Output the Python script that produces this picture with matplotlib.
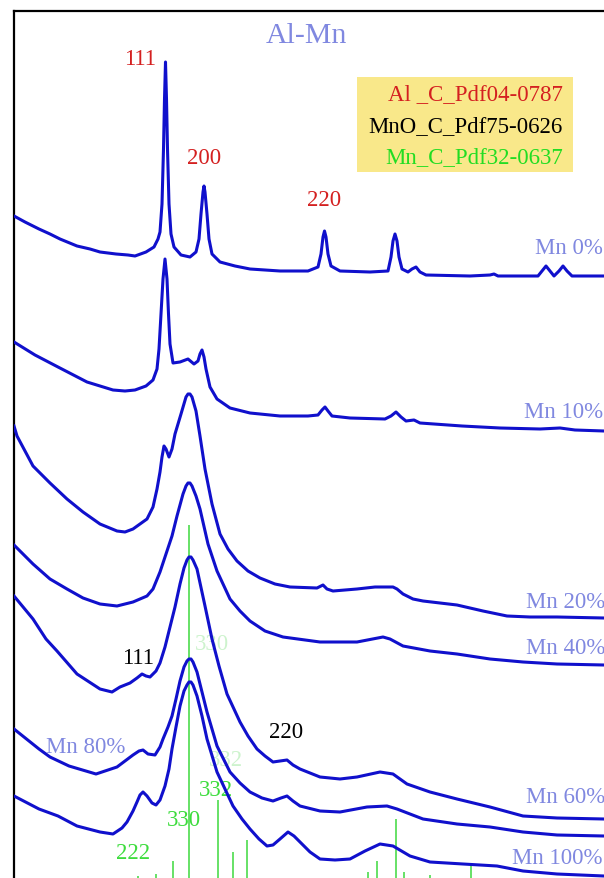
import matplotlib.pyplot as plt
from matplotlib.patches import Rectangle

# traced XRD patterns (x: diffraction angle, arb. scale; y: stacked intensity, arb. units)
mn0_x = [14, 25, 39, 50, 60, 77, 90, 100, 116, 128, 135, 146, 154, 158, 160, 162, 163.5, 164.5, 165.5, 166.5,
         167.5, 169, 171, 174, 181, 190, 196, 199, 201, 203, 204, 205, 207, 209, 212, 220, 235, 250, 280, 308,
         318, 321, 323, 324.5, 326, 328, 331, 340, 370, 388, 391, 393, 395, 397, 399, 402, 408, 412, 416, 420,
         426, 470, 490, 494, 498, 538, 542, 546, 550, 554, 559, 563, 567, 572, 604, 620]
mn0_y = [683, 677, 670, 665, 660, 653, 650, 647, 645, 644, 643, 647, 652, 660, 667, 695, 750, 800, 837, 800,
         750, 695, 665, 652, 644, 642, 647, 660, 685, 707, 713, 707, 685, 660, 645, 637, 633, 630, 628, 628,
         632, 645, 662, 668, 662, 645, 633, 628, 627, 628, 642, 658, 665, 658, 642, 630, 627, 630, 632, 627,
         624, 623, 624, 625, 623, 623, 628, 633, 628, 623, 628, 633, 628, 623, 623, 623]

mn10_x = [14, 35, 58, 87, 113, 125, 135, 146, 153, 157, 159, 161, 163, 165, 167, 168.5, 170, 173, 180, 188,
          194, 198, 200, 202, 204, 206, 210, 217, 230, 250, 280, 308, 318, 322, 325, 328, 332, 350, 385, 391,
          396, 401, 406, 414, 420, 462, 500, 540, 560, 575, 604, 620]
mn10_y = [557, 544, 532, 517, 509, 508, 509, 513, 519, 530, 550, 585, 620, 640, 620, 585, 555, 536, 537, 540,
          535, 538, 545, 549, 542, 530, 512, 500, 491, 486, 483, 483, 484, 489, 492, 488, 483, 481, 480, 483,
          487, 482, 478, 479, 476, 473, 471, 470, 471, 469, 468, 468]

mn20_x = [14, 17, 25, 33, 50, 67, 83, 100, 117, 125, 133, 147, 153, 157, 160, 162, 164, 166, 169, 172,
          175, 181, 186, 188, 190, 192, 196, 200, 205, 212, 220, 228, 237, 248, 260, 275, 290, 317, 323, 327,
          333, 357, 375, 393, 397, 403, 413, 423, 457, 483, 507, 530, 557, 604, 620]
mn20_y = [473, 463, 448, 433, 416, 400, 387, 375, 368, 367, 370, 380, 392, 410, 427, 442, 453, 450, 442, 450,
          465, 485, 502, 505, 505, 502, 488, 463, 430, 395, 365, 350, 338, 328, 321, 315, 312, 311, 314, 310,
          308, 310, 312, 312, 310, 305, 300, 298, 294, 288, 283, 282, 282, 281, 281]

mn40_x = [14, 20, 33, 50, 67, 83, 100, 117, 133, 147, 153, 160, 166, 172, 177, 183, 186, 188, 190, 192,
          196, 200, 208, 217, 230, 240, 250, 265, 283, 320, 357, 383, 390, 403, 430, 457, 490, 523, 557, 604,
          620]
mn40_y = [354, 348, 335, 320, 310, 301, 295, 293, 297, 303, 310, 327, 345, 363, 383, 405, 413, 416, 416, 413,
          403, 390, 355, 328, 300, 288, 278, 268, 262, 257, 257, 262, 260, 253, 248, 245, 240, 237, 235, 234,
          234]

mn60_x = [14, 33, 46, 57, 77, 100, 112, 120, 130, 137, 142, 146, 150, 156, 160, 165, 170, 175, 180, 184,
          187, 189, 191, 193, 197, 205, 212, 219, 227, 240, 248, 257, 265, 273, 280, 287, 293, 300, 320, 340,
          357, 380, 393, 407, 430, 457, 490, 523, 557, 604, 620]
mn60_y = [303, 280, 260, 248, 225, 210, 207, 212, 216, 221, 225, 223, 222, 228, 236, 252, 272, 292, 315, 331,
          339, 342, 342, 339, 330, 293, 260, 233, 205, 177, 163, 150, 143, 137, 138, 139, 134, 130, 122, 120,
          122, 127, 125, 115, 107, 100, 92, 83, 81, 80, 80]

mn80_x = [14, 39, 50, 69, 96, 117, 133, 139, 143, 148, 155, 160, 163, 168, 172, 176, 180, 184, 187, 189,
          191, 193, 197, 202, 207, 217, 230, 240, 250, 262, 273, 281, 287, 293, 300, 320, 340, 367, 387, 397,
          423, 457, 490, 523, 557, 604, 620]
mn80_y = [170, 150, 142, 133, 125, 132, 144, 148, 149, 145, 144, 152, 160, 172, 183, 200, 218, 232, 238, 240,
          240, 237, 227, 207, 187, 153, 127, 116, 107, 101, 98, 101, 103, 98, 93, 88, 87, 92, 93, 90,
          80, 75, 72, 67, 64, 63, 63]

mn100_x = [14, 39, 58, 77, 100, 113, 122, 127, 133, 137, 140, 143, 147, 152, 156, 160, 165, 169, 172, 176,
           180, 184, 187, 189, 191, 193, 197, 202, 207, 217, 233, 242, 250, 259, 267, 273, 280, 288, 294, 300,
           310, 320, 335, 350, 365, 380, 393, 410, 430, 463, 497, 523, 557, 604, 620]
mn100_y = [103, 90, 83, 73, 67, 65, 71, 77, 88, 97, 104, 107, 103, 96, 94, 99, 113, 130, 150, 172,
           193, 208, 214, 217, 217, 214, 203, 183, 160, 127, 93, 80, 70, 60, 53, 54, 60, 67, 63, 57,
           47, 40, 39, 40, 48, 55, 53, 43, 37, 35, 33, 28, 25, 23, 23]

# Mn reference sticks (Pdf32-0637)
stick_x = [138, 156, 173, 189, 218, 233, 247, 368, 377, 396, 404, 430, 471]
stick_h = [23, 25, 38, 374, 99, 47, 59, 27, 38, 80, 27, 24, 35]

curves = [(mn0_x, mn0_y), (mn10_x, mn10_y), (mn20_x, mn20_y), (mn40_x, mn40_y),
          (mn60_x, mn60_y), (mn80_x, mn80_y), (mn100_x, mn100_y)]

plt.rcParams['font.family'] = ['Liberation Serif', 'DejaVu Serif']

fig = plt.figure(figsize=(6.04, 8.79), dpi=100)
ax = fig.add_axes([14 / 604, -21 / 879, 626 / 604, 888 / 879])
ax.set_xlim(14, 640)
ax.set_ylim(0, 888)

blue = '#1010cc'
lab = '#8088e0'
green = '#3ddc3d'

ax.vlines(stick_x, 0, stick_h, color='#5ade5a', lw=1.3, zorder=1)
for x, y in curves:
    ax.plot(x, y, color=blue, lw=2.2, solid_joinstyle='round', zorder=3)

fs = 16.5
ax.text(306, 864, 'Al-Mn', color=lab, fontsize=21.5, ha='center', va='center')

# Al reflections
ax.text(140, 841, '111', color='#d42020', fontsize=fs, ha='center', va='center')
ax.text(204, 742, '200', color='#d42020', fontsize=fs, ha='center', va='center')
ax.text(324, 699, '220', color='#d42020', fontsize=fs, ha='center', va='center')

# phase box
ax.add_patch(Rectangle((357, 727), 216, 95, facecolor='#f9e88a', edgecolor='none', zorder=2))
ax.text(563, 805, 'Al _C_Pdf04-0787', color='#d42020', fontsize=fs, ha='right', va='center', zorder=4)
ax.text(563, 773, 'MnO_C_Pdf75-0626', color='black', fontsize=fs, ha='right', va='center', zorder=4)
ax.text(563, 742, 'Mn_C_Pdf32-0637', color='#22dd22', fontsize=fs, ha='right', va='center', zorder=4)

# sample labels
for x, y, s in [(535, 652, 'Mn 0%'), (524, 487, 'Mn 10%'), (526, 298, 'Mn 20%'), (526, 251, 'Mn 40%'),
                (526, 102, 'Mn 60%'), (46, 152, 'Mn 80%'), (512, 41, 'Mn 100%')]:
    ax.text(x, y, s, color=lab, fontsize=fs, ha='left', va='center', zorder=4)

# MnO reflections
ax.text(138, 242, '111', color='black', fontsize=fs, ha='center', va='center', zorder=4)
ax.text(286, 167, '220', color='black', fontsize=fs, ha='center', va='center', zorder=4)

# Mn reflections
ax.text(212, 256, '330', color='#cdf3cd', fontsize=fs, ha='center', va='center', zorder=2)
ax.text(226, 139, '332', color='#cdf3cd', fontsize=fs, ha='center', va='center', zorder=2)
ax.text(216, 109, '332', color=green, fontsize=fs, ha='center', va='center', zorder=2)
ax.text(184, 79, '330', color=green, fontsize=fs, ha='center', va='center', zorder=2)
ax.text(133, 46, '222', color=green, fontsize=fs, ha='center', va='center', zorder=2)

ax.set_xticks([])
ax.set_yticks([])
for side in ['right', 'bottom']:
    ax.spines[side].set_visible(False)
for side in ['left', 'top']:
    ax.spines[side].set_linewidth(1.6)

fig.savefig('out.png', dpi=100)
